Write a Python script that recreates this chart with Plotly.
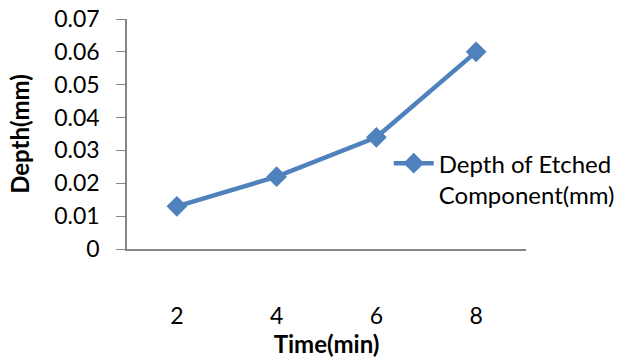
import plotly.graph_objects as go

times = ["2", "4", "6", "8"]
depth = [0.013, 0.022, 0.034, 0.060]
series_name = "Depth of Etched<br>Component(mm)"
y_ticks = [0, 0.01, 0.02, 0.03, 0.04, 0.05, 0.06, 0.07]
y_tick_text = ["0", "0.01", "0.02", "0.03", "0.04", "0.05", "0.06", "0.07"]

blue = "#4F81BD"
axis_grey = "#868686"
font_family = "Lato, 'Open Sans', sans-serif"

fig = go.Figure()
fig.add_trace(go.Scatter(
    x=times, y=depth, mode="lines+markers", name=series_name,
    line=dict(color=blue, width=4.5),
    marker=dict(symbol="diamond", size=16, color=blue),
))

fig.update_layout(
    width=628, height=360,
    margin=dict(l=127, r=102, t=19, b=111, pad=0, autoexpand=False),
    paper_bgcolor="white", plot_bgcolor="white",
    font=dict(family=font_family, size=23, color="black"),
    showlegend=True,
    legend=dict(x=0.619, y=0.608, xref="container", yref="container",
                xanchor="left", yanchor="top", valign="top",
                font=dict(size=24), bgcolor="rgba(0,0,0,0)",
                itemwidth=40, tracegroupgap=0),
)
fig.update_xaxes(
    type="category", range=[-0.5, 3.5], automargin=False,
    showline=True, linecolor=axis_grey, linewidth=1.5,
    showgrid=False, zeroline=False, ticks="",
    ticklabelstandoff=46,
    title=dict(text="<b>Time(min)</b>", font=dict(size=24), standoff=4),
)
fig.update_yaxes(
    range=[0, 0.07], tickvals=y_ticks, ticktext=y_tick_text, automargin=False,
    showline=True, linecolor=axis_grey, linewidth=1.5,
    ticks="outside", ticklen=9, tickcolor=axis_grey,
    ticklabelstandoff=12,
    showgrid=False, zeroline=False,
    title=dict(text="<b>Depth(mm)</b>", font=dict(size=24), standoff=18),
)

fig.write_html(
    "out.html", config={"displayModeBar": False},
    post_script=(
        "document.documentElement.style.overflow='hidden';"
        "document.body.style.overflow='hidden';"
        "document.body.style.margin='0';"
    ),
)
